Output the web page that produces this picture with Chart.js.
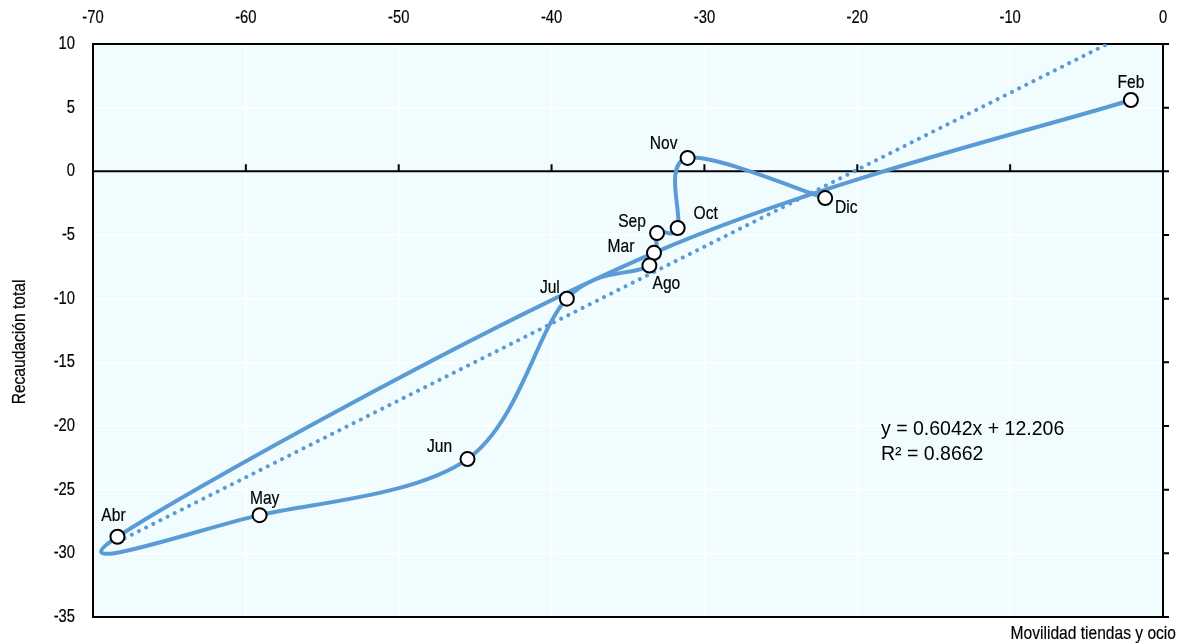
<!DOCTYPE html>
<html>
<head>
<meta charset="utf-8">
<script src="https://cdn.jsdelivr.net/npm/chart.js@4/dist/chart.umd.min.js"></script>
<style>
  html, body { margin: 0; padding: 0; background: #ffffff; }
  #wrap { width: 1179px; height: 643px; position: relative; }
</style>
</head>
<body>
<div id="wrap"><canvas id="c" width="1179" height="643"></canvas></div>
<script>
// ---- Data ----
const months = ["Feb", "Mar", "Abr", "May", "Jun", "Jul", "Ago", "Sep", "Oct", "Nov", "Dic"];
const mobility = [-2.1, -33.3, -68.4, -59.1, -45.5, -39.0, -33.6, -33.1, -31.75, -31.1, -22.1];
const revenue  = [5.6, -6.4, -28.7, -27.0, -22.6, -10.0, -7.4, -4.85, -4.45, 1.05, -2.1];
const trendX = [-68.4, -3.65];
const trendY = [-29.1, 10.0];
const xTicks = [-70, -60, -50, -40, -30, -20, -10, 0];
const yTicks = [10, 5, 0, -5, -10, -15, -20, -25, -30, -35];
const equationLines = ["y = 0.6042x + 12.206", "R\u00B2 = 0.8662"];
const xTitle = "Movilidad tiendas y ocio";
const yTitle = "Recaudaci\u00F3n total";
// label offsets (dx, dy) in px relative to each point
const labelOffsets = [[0,-17],[-33,-6],[-4,-21],[5,-16],[-28,-12],[-17,-11],[17,18],[-25,-11],[28,-14],[-24,-14],[21,10]];

const FONT = "'Liberation Sans', Arial, sans-serif";
const NARROW_SCALE = 0.82;
const SERIES_COLOR = "#5b9bd5";
const BG = "#f0fcfe";

const pts = mobility.map((x, i) => ({ x: x, y: revenue[i] }));
const trendPts = trendX.map((x, i) => ({ x: x, y: trendY[i] }));

function narrowText(ctx, text, x, y, align, size) {
  ctx.save();
  ctx.translate(x, y);
  ctx.scale(NARROW_SCALE, 1);
  ctx.font = size + "px " + FONT;
  ctx.textAlign = align;
  ctx.textBaseline = 'middle';
  ctx.fillStyle = '#000';
  ctx.strokeStyle = '#000';
  ctx.lineWidth = 0.2;
  ctx.fillText(text, 0, 0);
  ctx.strokeText(text, 0, 0);
  ctx.restore();
}

const decor = {
  id: 'decor',
  beforeDraw(chart) {
    const { ctx, chartArea: a } = chart;
    ctx.save();
    ctx.fillStyle = BG;
    ctx.fillRect(a.left, a.top, a.right - a.left, a.bottom - a.top);
    ctx.restore();
  },
  beforeDatasetsDraw(chart) {
    const { ctx, chartArea: a, scales } = chart;
    // Excel-like smoothing: control points at +/- (next - prev) / 6
    const meta = chart.getDatasetMeta(0);
    meta.dataset.updateControlPoints(a, 'x');
    const P = meta.data;
    const n = P.length;
    for (let i = 0; i < n; i++) {
      const prev = P[Math.max(0, i - 1)], next = P[Math.min(n - 1, i + 1)];
      const dx = (next.x - prev.x) / 6, dy = (next.y - prev.y) / 6;
      P[i].cp1x = P[i].x - dx; P[i].cp1y = P[i].y - dy;
      P[i].cp2x = P[i].x + dx; P[i].cp2y = P[i].y + dy;
    }
    meta.dataset._path = undefined;

    const y0 = scales.y.getPixelForValue(0);
    ctx.save();
    ctx.strokeStyle = '#000';
    ctx.lineWidth = 2;
    ctx.beginPath();
    ctx.moveTo(a.left - 1, a.top); ctx.lineTo(a.right, a.top);
    ctx.moveTo(a.left, a.top); ctx.lineTo(a.left, a.bottom);
    ctx.moveTo(a.left - 1, a.bottom); ctx.lineTo(a.right, a.bottom);
    ctx.moveTo(a.right, a.top - 1); ctx.lineTo(a.right, a.bottom + 1);
    ctx.stroke();
    ctx.beginPath();
    yTicks.forEach(v => {
      const py = scales.y.getPixelForValue(v);
      ctx.moveTo(a.right, py); ctx.lineTo(a.right + 6, py);
    });
    ctx.stroke();
    ctx.beginPath();
    ctx.moveTo(a.left, y0); ctx.lineTo(a.right, y0);
    xTicks.forEach(v => {
      if (v === xTicks[0]) return;
      const px = scales.x.getPixelForValue(v);
      ctx.moveTo(px, y0); ctx.lineTo(px, y0 - 7);
    });
    ctx.stroke();
    ctx.restore();

    // tick labels
    xTicks.forEach(v => narrowText(ctx, String(v), scales.x.getPixelForValue(v), 18, 'center', 18));
    yTicks.forEach(v => narrowText(ctx, String(v), 75, scales.y.getPixelForValue(v), 'right', 18));
  },
  afterDatasetsDraw(chart) {
    const { ctx, scales } = chart;
    months.forEach((m, i) => {
      const px = scales.x.getPixelForValue(mobility[i]);
      const py = scales.y.getPixelForValue(revenue[i]);
      narrowText(ctx, m, px + labelOffsets[i][0], py + labelOffsets[i][1], 'center', 19);
    });
    ctx.save();
    ctx.fillStyle = '#000';
    ctx.font = "19.5px " + FONT;
    ctx.textAlign = 'left';
    ctx.textBaseline = 'middle';
    ctx.fillText(equationLines[0], 881, 430);
    ctx.fillText(equationLines[1], 881, 455);
    ctx.restore();
    narrowText(ctx, xTitle, 1176, 634, 'right', 19);
    ctx.save();
    ctx.translate(20, 342);
    ctx.rotate(-Math.PI / 2);
    narrowText(ctx, yTitle, 0, 0, 'center', 19);
    ctx.restore();
  }
};

new Chart(document.getElementById('c'), {
  type: 'scatter',
  data: {
    datasets: [
      {
        data: pts,
        showLine: true,
        tension: 0.4,
        borderColor: SERIES_COLOR,
        borderWidth: 4,
        pointRadius: 7,
        pointBorderWidth: 2,
        pointBackgroundColor: '#ffffff',
        pointBorderColor: '#000000',
        clip: false
      },
      {
        data: trendPts,
        showLine: true,
        borderColor: SERIES_COLOR,
        borderWidth: 4,
        borderDash: [0.01, 8],
        borderCapStyle: 'round',
        pointRadius: 0
      }
    ]
  },
  options: {
    responsive: false,
    animation: false,
    devicePixelRatio: 1,
    layout: { padding: { left: 0, right: 16, top: 0, bottom: 26 } },
    plugins: { legend: { display: false }, tooltip: { enabled: false } },
    scales: {
      x: {
        type: 'linear',
        position: 'top',
        min: -70, max: 0,
        afterFit(s) { s.height = 44; },
        afterBuildTicks(s) { s.ticks = xTicks.map(v => ({ value: v })); },
        grid: { color: '#ffffff', lineWidth: 1.5, drawTicks: false },
        border: { display: false },
        ticks: { display: false }
      },
      y: {
        type: 'linear',
        position: 'left',
        min: -35, max: 10,
        afterFit(s) { s.width = 93; },
        afterBuildTicks(s) { s.ticks = yTicks.slice().reverse().map(v => ({ value: v })); },
        grid: { color: '#ffffff', lineWidth: 1.5, drawTicks: false },
        border: { display: false },
        ticks: { display: false }
      }
    }
  },
  plugins: [decor]
});
</script>
</body>
</html>
